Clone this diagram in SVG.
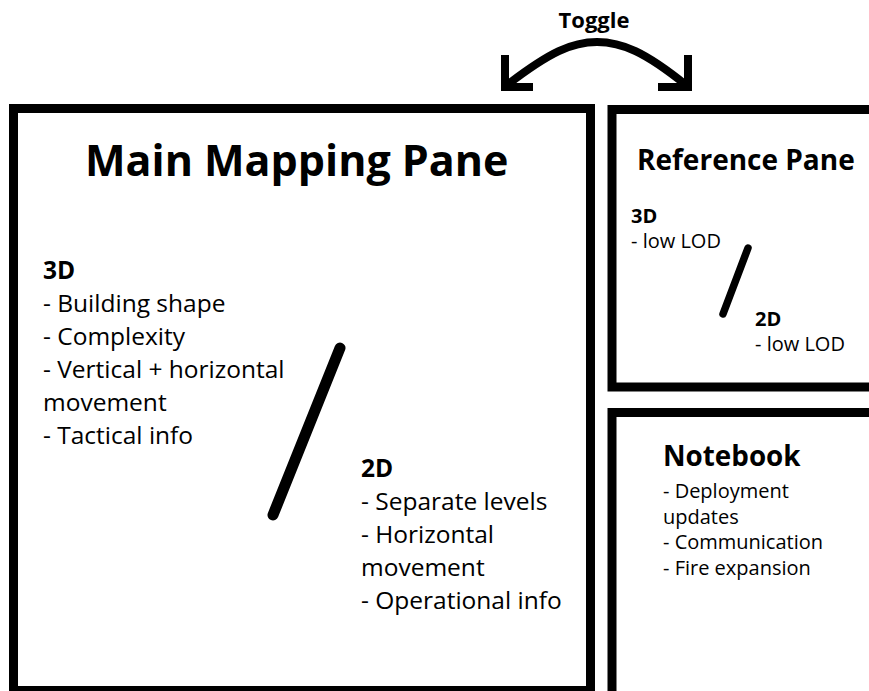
<svg xmlns="http://www.w3.org/2000/svg" width="869" height="691" viewBox="0 0 869 691">
<style>
.pane{fill:#fff;stroke:#000;stroke-width:9}
text{font-family:"Open Sans","Liberation Sans",sans-serif;fill:#000}
.b{font-weight:bold}
.body{font-size:24.5px}
.small{font-size:20px}
.slash{stroke:#000;stroke-linecap:round;fill:none}
.conn{stroke:#000;stroke-width:8;fill:none;stroke-linecap:square;stroke-linejoin:miter}
</style>
<rect width="869" height="691" fill="#fff"/>
<g id="main-pane">
<rect class="pane" x="13.5" y="108.5" width="577" height="582"/>
<text class="b" x="85" y="176" font-size="43">Main Mapping Pane</text>
<text class="body" x="43" y="278.5"><tspan class="b">3D</tspan><tspan x="43" dy="33">- Building shape</tspan><tspan x="43" dy="33">- Complexity</tspan><tspan x="43" dy="33">- Vertical + horizontal</tspan><tspan x="43" dy="33">movement</tspan><tspan x="43" dy="33">- Tactical info</tspan></text>
<line class="slash" x1="340" y1="348" x2="273" y2="515" stroke-width="11"/>
<text class="body" x="361" y="476.5"><tspan class="b">2D</tspan><tspan x="361" dy="33">- Separate levels</tspan><tspan x="361" dy="33">- Horizontal</tspan><tspan x="361" dy="33">movement</tspan><tspan x="361" dy="33">- Operational info</tspan></text>
</g>
<g id="reference-pane">
<rect class="pane" x="612" y="109.5" width="270" height="277.5"/>
<text class="b" x="637" y="170" font-size="28">Reference Pane</text>
<text class="small" x="631" y="223"><tspan class="b">3D</tspan><tspan x="631" dy="25">- low LOD</tspan></text>
<line class="slash" x1="748" y1="248" x2="723" y2="314" stroke-width="7.5"/>
<text class="small" x="755" y="326"><tspan class="b">2D</tspan><tspan x="755" dy="25">- low LOD</tspan></text>
</g>
<g id="notebook">
<rect class="pane" x="612" y="412.5" width="270" height="290"/>
<text class="b" x="663" y="466" font-size="27.8">Notebook</text>
<text class="small" x="663" y="498"><tspan x="663">- Deployment</tspan><tspan x="663" dy="25.5">updates</tspan><tspan x="663" dy="25.5">- Communication</tspan><tspan x="663" dy="25.5">- Fire expansion</tspan></text>
</g>
<g id="connectors">
<path class="conn" d="M507,85 C550,52 572,42 597,42 C622,42 645,52 686,85"/>
<path class="conn" d="M505,59 L505,87 L529,87"/>
<path class="conn" d="M688,59 L688,87 L662,87"/>
<text class="b" x="594" y="27.5" font-size="22" text-anchor="middle">Toggle</text>
</g>
</svg>
